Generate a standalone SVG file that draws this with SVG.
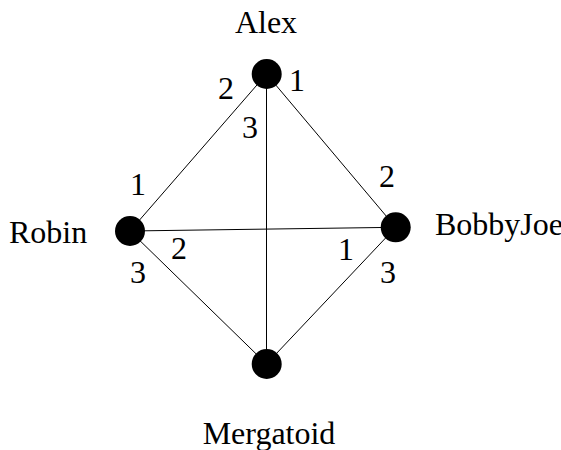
<svg xmlns="http://www.w3.org/2000/svg" width="561" height="450" viewBox="0 0 561 450">
<style>
.e{stroke:#000;stroke-width:1;fill:none}
.n{fill:#000}
text{font-family:"Liberation Serif","Times New Roman",serif;font-size:32px;fill:#000}
.m{text-anchor:middle}
</style>
<rect width="561" height="450" fill="#fff"/>
<g id="edges">
<line class="e" x1="266.5" y1="74" x2="130" y2="231"/>
<line class="e" x1="266.5" y1="74" x2="395.7" y2="227.3"/>
<line class="e" x1="266.5" y1="74" x2="266.5" y2="364"/>
<line class="e" x1="130" y1="231" x2="395.7" y2="227.3"/>
<line class="e" x1="130" y1="231" x2="266.5" y2="364"/>
<line class="e" x1="395.7" y1="227.3" x2="266.5" y2="364"/>
</g>
<g id="edge-labels">
<text x="218" y="99">2</text>
<text x="289" y="91">1</text>
<text x="242" y="138">3</text>
<text x="130" y="195">1</text>
<text x="171" y="259">2</text>
<text x="130" y="283">3</text>
<text x="379" y="187">2</text>
<text x="338" y="260">1</text>
<text x="380" y="283">3</text>
</g>
<g id="Alex"><circle class="n" cx="266.7" cy="74" r="15"/><text class="m" x="266" y="33">Alex</text></g>
<g id="Robin"><circle class="n" cx="130" cy="231" r="15"/><text x="9" y="243">Robin</text></g>
<g id="BobbyJoe"><circle class="n" cx="395.7" cy="227.3" r="15"/><text x="435" y="235">BobbyJoe</text></g>
<g id="Mergatoid"><circle class="n" cx="266.7" cy="364" r="15"/><text class="m" x="269" y="444">Mergatoid</text></g>
</svg>
